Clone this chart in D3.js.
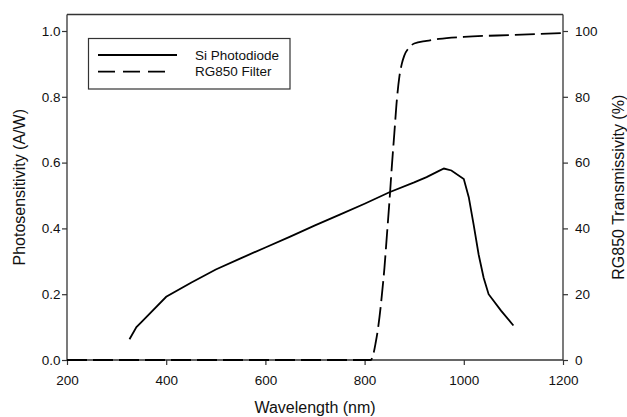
<!DOCTYPE html>
<html><head><meta charset="utf-8">
<script src="https://cdn.jsdelivr.net/npm/d3@7"></script>
<style>body{margin:0;background:#fff}svg{display:block}text{font-family:"Liberation Sans",Arial,sans-serif;fill:#111}</style>
</head><body><svg id="c" width="627" height="417"></svg>
<script>
const siWavelength = [326,340,350,400,450,500,550,600,650,700,750,800,850,900,925,950,960,975,1000,1010,1020,1030,1040,1050,1075,1100];
const siSensitivity = [0.063,0.10,0.115,0.192,0.235,0.275,0.309,0.342,0.375,0.409,0.442,0.475,0.510,0.540,0.556,0.575,0.582,0.576,0.550,0.495,0.410,0.320,0.250,0.200,0.150,0.105];
const rgWavelength = [200,800,812,815,818,822,826,830,835,840,845,850,855,860,865,870,875,880,890,900,925,950,1000,1100,1200];
const rgTransmission = [0,0,0,0.5,2,5,8.5,13,20,28,38,48,59,69,79,86,90,92.5,95,96.2,97,97.6,98.2,98.8,99.4];
const xTicks = [200,400,600,800,1000,1200];
const yLeftTicks = [0,0.2,0.4,0.6,0.8,1.0];
const yRightTicks = [0,20,40,60,80,100];
const legendLabels = ["Si Photodiode","RG850 Filter"];

const svg = d3.select("#c");
const L=67, R=563, T=14.5, B=360;
const x = d3.scaleLinear().domain([200,1200]).range([L,R]);
const yL = d3.scaleLinear().domain([0,1]).range([B,31]);
const yR = d3.scaleLinear().domain([0,100]).range([B,31]);
const axisColor="#333";

// top frame
svg.append("line").attr("x1",L).attr("x2",R).attr("y1",T).attr("y2",T).attr("stroke",axisColor).attr("stroke-width",1.3);

function styleAxis(g){
  g.select(".domain").remove();
  g.selectAll(".tick line").attr("stroke",axisColor).attr("stroke-width",1.2);
  g.selectAll(".tick text").style("font-size","13.5px").attr("fill","#111");
}
const gx = svg.append("g").attr("transform",`translate(0,${B})`)
  .call(d3.axisBottom(x).tickValues(xTicks).tickFormat(d3.format("d")).tickSize(5).tickPadding(10));
styleAxis(gx);
const gl = svg.append("g").attr("transform",`translate(${L},0)`)
  .call(d3.axisLeft(yL).tickValues(yLeftTicks).tickFormat(d3.format(".1f")).tickSize(5).tickPadding(1.5));
styleAxis(gl);
const gr = svg.append("g").attr("transform",`translate(${R},0)`)
  .call(d3.axisRight(yR).tickValues(yRightTicks).tickFormat(d3.format("d")).tickSize(5).tickPadding(7));
styleAxis(gr);
// axis lines
svg.append("line").attr("x1",L).attr("x2",R).attr("y1",B).attr("y2",B).attr("stroke",axisColor).attr("stroke-width",1.3);
svg.append("line").attr("x1",L).attr("x2",L).attr("y1",T).attr("y2",B).attr("stroke",axisColor).attr("stroke-width",1.3);
svg.append("line").attr("x1",R).attr("x2",R).attr("y1",T).attr("y2",B).attr("stroke",axisColor).attr("stroke-width",1.3);

// curves
const siData = siWavelength.map((w,i)=>[w,siSensitivity[i]]);
const rgData = rgWavelength.map((w,i)=>[w,rgTransmission[i]]);
svg.append("path").datum(rgData)
  .attr("d", d3.line().x(d=>x(d[0])).y(d=>yR(d[1])).curve(d3.curveMonotoneX))
  .attr("fill","none").attr("stroke","#000").attr("stroke-width",1.8).attr("stroke-dasharray","20,6");
svg.append("path").datum(siData)
  .attr("d", d3.line().x(d=>x(d[0])).y(d=>yL(d[1])))
  .attr("fill","none").attr("stroke","#000").attr("stroke-width",1.8);

// axis titles
svg.append("text").attr("x",(L+R)/2).attr("y",413).attr("text-anchor","middle").style("font-size","16px").text("Wavelength (nm)");
svg.append("text").attr("transform",`translate(25,${(T+B)/2}) rotate(-90)`).attr("text-anchor","middle").style("font-size","16px").text("Photosensitivity (A/W)");
svg.append("text").attr("transform",`translate(624,${(T+B)/2}) rotate(-90)`).attr("text-anchor","middle").style("font-size","16px").text("RG850 Transmissivity (%)");

// legend
svg.append("rect").attr("x",88.5).attr("y",38.5).attr("width",201.5).attr("height",50.5).attr("fill","#fff").attr("stroke",axisColor).attr("stroke-width",1.2);
const lg = svg.append("g");
legendLabels.forEach((lab,i)=>{
  const yy = 55 + i*16.7;
  lg.append("line").attr("x1",98).attr("x2",i? 169:177).attr("y1",yy).attr("y2",yy)
    .attr("stroke","#000").attr("stroke-width",1.8).attr("stroke-dasharray", i? "17,8":null);
  lg.append("text").attr("x",195).attr("y",yy).attr("dy","0.35em").style("font-size","13.5px").text(lab);
});
</script></body></html>
